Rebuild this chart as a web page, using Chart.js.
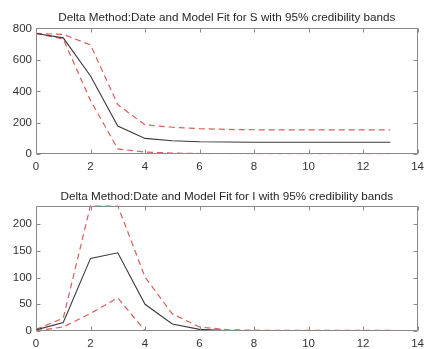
<!DOCTYPE html>
<html>
<head>
<meta charset="utf-8">
<script src="https://cdn.jsdelivr.net/npm/chart.js@4/dist/chart.umd.min.js"></script>
<style>
  html, body { margin: 0; padding: 0; background: #fff; }
  #wrap { position: relative; width: 430px; height: 349px; overflow: hidden; }
  #c1 { position: absolute; left: 0; top: 0; }
  #c2 { position: absolute; left: 0; top: 175px; }
</style>
</head>
<body>
<div id="wrap">
  <canvas id="c1" width="430" height="175"></canvas>
  <canvas id="c2" width="430" height="174"></canvas>
</div>
<script>
// ---- data ----
const days = [0, 1, 2, 3, 4, 5, 6, 7, 8, 9, 10, 11, 12, 13];
const sFit   = [768, 740, 498, 180, 101, 86, 80, 78, 77, 77, 77, 77, 77, 77];
const sUpper = [768, 762, 695, 315, 187, 172, 163, 158, 156, 155, 155, 155, 155, 155];
const sLower = [768, 732, 342, 34, 14, 8, 5, 4, 3, 3, 3, 3, 3, 3];
const iFit   = [2, 16, 136, 146.5, 50, 13, 3, 1, 0.5, 0.5, 0.5, 0.5, 0.5, 0.5];
const iUpper = [3, 24, 235, 234.5, 101, 32, 7.5, 2.5, 1.5, 1, 1, 1, 1, 1];
const iLower = [0.5, 7.5, 33, 62, 0.5, 0, 0, 0, 0, 0, 0, 0, 0, 0];
const xTicks = [0, 2, 4, 6, 8, 10, 12, 14];
const sTicks = [0, 200, 400, 600, 800];
const iTicks = [0, 50, 100, 150, 200];
const titleS = 'Delta Method:Date and Model Fit for S with 95% credibility bands';
const titleI = 'Delta Method:Date and Model Fit for I with 95% credibility bands';

const FONT = '"Liberation Sans", Arial, Helvetica, sans-serif';
const RED = 'rgb(222, 92, 92)';
const BLACK = '#3a3a3a';

const boxPlugin = {
  id: 'matlabBox',
  afterDraw(chart, args, opts) {
    const { ctx, chartArea: a, scales: { x, y } } = chart;
    ctx.save();
    ctx.strokeStyle = '#8a8a8a';
    ctx.lineWidth = 1;
    const L = Math.round(a.left) + 0.5, R = Math.round(a.right) - 0.5;
    const T = Math.round(a.top) + 0.5, B = Math.round(a.bottom) - 0.5;
    ctx.beginPath();
    ctx.rect(L, T, R - L, B - T);
    const tl = 4;
    x.ticks.forEach(t => {
      const px = Math.round(x.getPixelForValue(t.value)) + 0.5;
      ctx.moveTo(px, B); ctx.lineTo(px, B - tl);
      ctx.moveTo(px, T); ctx.lineTo(px, T + tl);
    });
    y.ticks.forEach(t => {
      const py = Math.round(y.getPixelForValue(t.value)) + 0.5;
      ctx.moveTo(L, py); ctx.lineTo(L + tl, py);
      ctx.moveTo(R, py); ctx.lineTo(R - tl, py);
    });
    ctx.stroke();
    // title centred over the axes
    ctx.fillStyle = '#262626';
    ctx.font = '11.7px ' + FONT;
    ctx.textAlign = 'center';
    ctx.textBaseline = 'middle';
    ctx.fillText(opts.text, (a.left + a.right) / 2, a.top - opts.gap);
    ctx.restore();
  }
};

function pts(arr) { return days.map((d, i) => ({ x: d, y: arr[i] })); }

function makeChart(id, title, fit, up, lo, yTicks, yMax, topPad, titleGap, xAxisH) {
  const ds = (data, color, dash, w) => ({
    data: pts(data), borderColor: color, borderWidth: w, borderDash: dash,
    pointRadius: 0, fill: false, tension: 0
  });
  return new Chart(document.getElementById(id), {
    type: 'line',
    data: {
      datasets: [
        ds(fit, BLACK, [], 1.1),
        ds(up, RED, [6, 4], 1.2),
        ds(lo, RED, [6, 4], 1.2)
      ]
    },
    options: {
      responsive: false,
      animation: false,
      devicePixelRatio: 1,
      layout: { padding: { left: 0, right: 7, top: topPad, bottom: 0 } },
      plugins: {
        legend: { display: false },
        tooltip: { enabled: false },
        title: { display: false },
        matlabBox: { text: title, gap: titleGap }
      },
      scales: {
        x: {
          type: 'linear', min: 0, max: 14,
          afterBuildTicks: s => { s.ticks = xTicks.map(v => ({ value: v })); },
          afterFit: s => { s.height = xAxisH; },
          grid: { display: false, drawTicks: false },
          border: { display: false },
          ticks: { color: '#333', padding: 6, font: { family: FONT, size: 11.5 }, maxRotation: 0 }
        },
        y: {
          type: 'linear', min: 0, max: yMax,
          afterBuildTicks: s => { s.ticks = yTicks.map(v => ({ value: v })); },
          afterFit: s => { s.width = 36; },
          grid: { display: false, drawTicks: false },
          border: { display: false },
          ticks: { color: '#333', padding: 4, font: { family: FONT, size: 11.5 } }
        }
      }
    },
    plugins: [boxPlugin]
  });
}

makeChart('c1', titleS, sFit, sUpper, sLower, sTicks, 800, 28.4, 10.5, 20.7);
makeChart('c2', titleI, iFit, iUpper, iLower, iTicks, 235, 30.5, 8.5, 18);
</script>
</body>
</html>
